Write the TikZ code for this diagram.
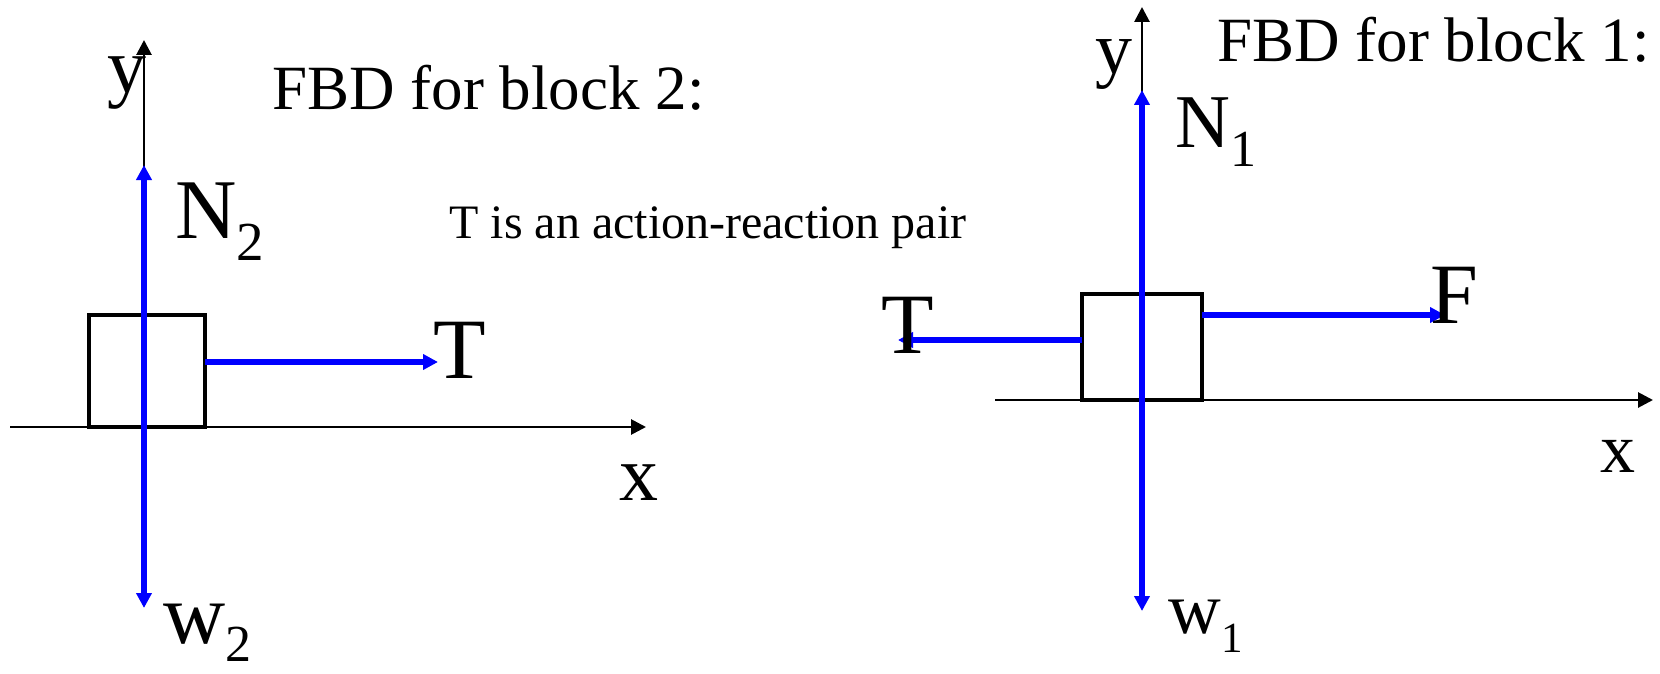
\documentclass[tikz,border=0pt]{standalone}
\usepackage{fontspec}
\setmainfont{Liberation Serif}
\usetikzlibrary{arrows.meta}
\newcommand\fsz[1]{\fontsize{#1}{#1}\selectfont}
\begin{document}
\begin{tikzpicture}[x=0.5pt,y=-0.5pt,
  axis/.style={draw=black,line width=1.4pt,-{Triangle[length=7.5pt,width=7.5pt]}},
  force/.style={draw=blue,line width=3.2pt,-{Triangle[length=7.5pt,width=7.5pt]}},
  block/.style={draw=black,line width=2pt,inner sep=0pt,fill=none},
  lbl/.style={inner sep=0pt,anchor=base west}]
\useasboundingbox (0,0) rectangle (1660,674);

% ---------- block 2 (left) ----------
\coordinate (xa2s) at (10,427);
\coordinate (xa2e) at (646,427);
\coordinate (ya2s) at (144,427);
\coordinate (ya2e) at (144,40);
\draw[axis] (xa2s) -- (xa2e);
\draw[axis] (ya2s) -- (ya2e);
\node[block,minimum width=58pt,minimum height=56pt] (box2) at (147,371) {};
\coordinate (c2) at (144,371);
\coordinate (n2tip) at (144,165);
\coordinate (w2tip) at (144,608);
\coordinate (t2s) at (205,362);
\coordinate (t2tip) at (438,362);
\draw[force] (c2) -- (n2tip);
\draw[force] (c2) -- (w2tip);
\draw[force] (t2s) -- (t2tip);

\node[lbl,font=\fsz{39}] (ylab2) at (107,93) {y};
\node[lbl,font=\fsz{39}] (xlab2) at (619,500) {x};
\node[lbl,font=\fsz{31.5}] (title2) at (272,110) {FBD for block 2:};
\node[lbl,font=\fsz{42.5}] (nlab2) at (175,238) {N\raisebox{-11pt}{\fsz{27.5}2}};
\node[lbl,font=\fsz{43}] (wlab2) at (163,643) {w\raisebox{-9pt}{\fsz{26}2}};
\node[lbl,font=\fsz{43}] (tlab2) at (433,378) {T};
\node[lbl,font=\fsz{24}] (note) at (449,238) {T is an action-reaction pair};

% ---------- block 1 (right) ----------
\coordinate (xa1s) at (995,400);
\coordinate (xa1e) at (1653,400);
\coordinate (ya1s) at (1142,400);
\coordinate (ya1e) at (1142,7);
\draw[axis] (xa1s) -- (xa1e);
\draw[axis] (ya1s) -- (ya1e);
\node[block,minimum width=60pt,minimum height=53pt] (box1) at (1142,347) {};
\coordinate (c1) at (1142,347);
\coordinate (n1tip) at (1142,90);
\coordinate (w1tip) at (1142,611);
\coordinate (f1s) at (1202,315);
\coordinate (f1tip) at (1445,315);
\coordinate (t1s) at (1082,340);
\coordinate (t1tip) at (898,340);
\draw[force] (c1) -- (n1tip);
\draw[force] (c1) -- (w1tip);
\draw[force] (f1s) -- (f1tip);
\draw[force] (t1s) -- (t1tip);

\node[lbl,font=\fsz{37}] (ylab1) at (1095,74) {y};
\node[lbl,font=\fsz{35}] (xlab1) at (1600,472) {x};
\node[lbl,font=\fsz{31.5}] (title1) at (1217,62) {FBD for block 1:};
\node[lbl,font=\fsz{38}] (nlab1) at (1175,148) {N\raisebox{-9.5pt}{\fsz{26}1}};
\node[lbl,font=\fsz{36.5}] (wlab1) at (1168,633) {w\raisebox{-9.5pt}{\fsz{21.5}1}};
\node[lbl,font=\fsz{43}] (tlab1) at (881,353) {T};
\node[lbl,font=\fsz{43}] (flab1) at (1430,323) {F};
\end{tikzpicture}
\end{document}
